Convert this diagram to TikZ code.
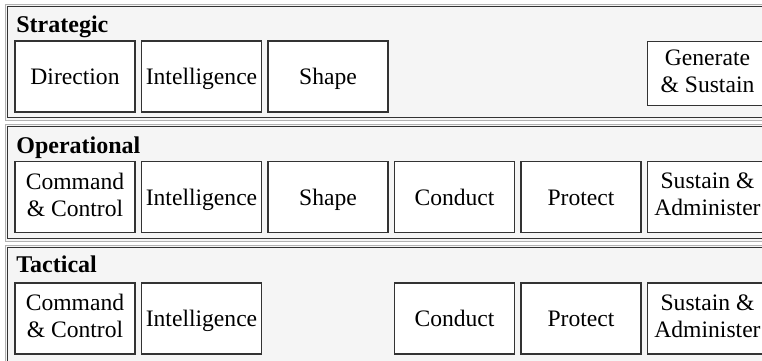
\documentclass[tikz,border=0pt]{standalone}
\usepackage{fontspec}
\setmainfont{Liberation Serif}
\colorlet{panelfill}{gray!8}
\colorlet{boxline}{black!80}
\newcommand{\boxstrut}{\rule[-2.6pt]{0pt}{13.5pt}}
\tikzset{
  panel/.style = {fill=panelfill, draw=gray!60, line width=0.5pt},
  panelrim/.style = {draw=boxline, line width=0.6pt},
  box/.style = {draw=boxline, line width=0.8pt, fill=white, inner sep=0pt,
    minimum width=60pt, minimum height=35.5pt, align=center,
    font=\fontsize{11.8}{13.5}\selectfont,
    execute at begin node=\boxstrut, execute at end node=\boxstrut},
  level/.style = {anchor=base west, inner sep=0pt,
    font=\fontsize{12}{14}\selectfont\bfseries}
}

\begin{document}
\begin{tikzpicture}[x=0.5pt,y=-0.5pt]
  \clip (0,0) rectangle (762,360);
  \pgfmathsetmacro{\pitch}{126.5}
  % panels
  \foreach \top/\bot in {4/120,124/241,245/366} {
    \draw[panel] (5,\top) rectangle (790,\bot);
    \draw[panelrim] (7.5,\top+2.5) rectangle (787,\bot-2.5);
  }
  \node[level] (strat) at (16,32) {Strategic};
  \node[level] (oper) at (16,153) {Operational};
  \node[level] (tact) at (16,272) {Tactical};
  % strategic
  \foreach \i/\nm/\txt in {0/dir/Direction,1/int/Intelligence,2/shape/Shape}
    \node[box] (st-\nm) at ({75+\i*\pitch},76.5) {\txt};
  \node[box, minimum height=32pt] (st-gen) at ({75+5*\pitch},73.5) {Generate\\\& Sustain};
  % operational
  \foreach \i/\nm/\txt in {0/cc/{Command\\\& Control},1/int/Intelligence,2/shape/Shape,
      3/conduct/Conduct,4/protect/Protect,5/sustain/{Sustain \&\\Administer}}
    \node[box] (op-\nm) at ({75+\i*\pitch},197) {\txt};
  % tactical
  \foreach \i/\nm/\txt in {0/cc/{Command\\\& Control},1/int/Intelligence,
      3/conduct/Conduct,4/protect/Protect,5/sustain/{Sustain \&\\Administer}}
    \node[box] (ta-\nm) at ({75+\i*\pitch},318.5) {\txt};
\end{tikzpicture}
\end{document}
